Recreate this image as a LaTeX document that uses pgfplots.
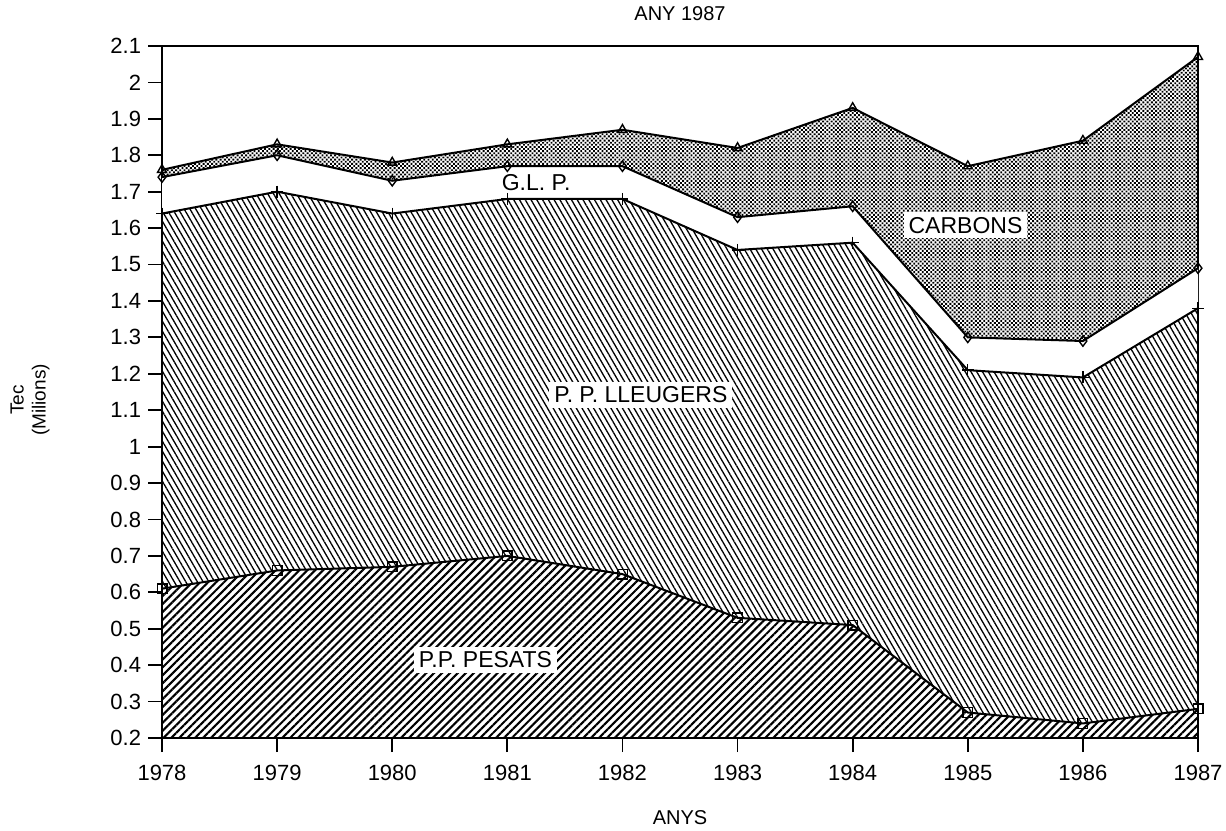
\documentclass[border=0pt]{standalone}
\usepackage{pgfplots}
\pgfplotsset{compat=1.18}
\usepgfplotslibrary{fillbetween}
\usetikzlibrary{patterns,patterns.meta,calc}
\usepackage{fontspec}
\setmainfont{Liberation Sans}
\begin{document}
\begin{tikzpicture}
\begin{axis}[
  name=ax, scale only axis, width=518pt, height=346pt,
  xmin=1978, xmax=1987, ymin=0.2, ymax=2.1,
  xtick={1978,1979,1980,1981,1982,1983,1984,1985,1986,1987},
  ytick={0.2,0.3,0.4,0.5,0.6,0.7,0.8,0.9,1,1.1,1.2,1.3,1.4,1.5,1.6,1.7,1.8,1.9,2,2.1},
  yticklabels={0.2,0.3,0.4,0.5,0.6,0.7,0.8,0.9,1,1.1,1.2,1.3,1.4,1.5,1.6,1.7,1.8,1.9,2,2.1},
  xticklabels={1978,1979,1980,1981,1982,1983,1984,1985,1986,1987},
  tick align=outside, tick pos=left, major tick length=7pt,
  tick style={line width=0.9pt, black},
  axis line style={line width=1.1pt},
  ticklabel style={font=\fontsize{11}{13}\selectfont},
  xticklabel style={yshift=-3pt},
  clip=false,
]
\addplot[draw=none, name path=bot] coordinates {(1978,0.2) (1987,0.2)};
% P.P. PESATS (cumulative)
\addplot[draw=none, name path=pes] coordinates {
(1978,0.61) (1979,0.66) (1980,0.67) (1981,0.70) (1982,0.65) (1983,0.53) (1984,0.51) (1985,0.27) (1986,0.24) (1987,0.28)};
% P.P. LLEUGERS (cumulative)
\addplot[draw=none, name path=lle] coordinates {
(1978,1.64) (1979,1.70) (1980,1.64) (1981,1.68) (1982,1.68) (1983,1.54) (1984,1.56) (1985,1.21) (1986,1.19) (1987,1.38)};
% G.L.P. (cumulative)
\addplot[draw=none, name path=glp] coordinates {
(1978,1.74) (1979,1.80) (1980,1.73) (1981,1.77) (1982,1.77) (1983,1.63) (1984,1.66) (1985,1.30) (1986,1.29) (1987,1.49)};
% CARBONS (cumulative)
\addplot[draw=none, name path=car] coordinates {
(1978,1.76) (1979,1.83) (1980,1.78) (1981,1.83) (1982,1.87) (1983,1.82) (1984,1.93) (1985,1.77) (1986,1.84) (1987,2.07)};

\addplot[pattern={Lines[angle=45,distance=2.8pt,line width=1.05pt]}] fill between[of=pes and bot];
\addplot[pattern={Lines[angle=120,distance=2.5pt,line width=0.65pt]}] fill between[of=lle and pes];
\addplot[fill=white] fill between[of=glp and lle];
\addplot[pattern={Dots[distance=1.5pt,radius=0.66pt,angle=45]}] fill between[of=car and glp];

\addplot[black, line width=1pt, mark=square, mark size=2.4pt, mark options={solid,fill=white,line width=0.7pt}] coordinates {
(1978,0.61) (1979,0.66) (1980,0.67) (1981,0.70) (1982,0.65) (1983,0.53) (1984,0.51) (1985,0.27) (1986,0.24) (1987,0.28)};
\addplot[black, line width=1pt, mark=+, mark size=3pt, mark options={solid,line width=0.7pt}] coordinates {
(1978,1.64) (1979,1.70) (1980,1.64) (1981,1.68) (1982,1.68) (1983,1.54) (1984,1.56) (1985,1.21) (1986,1.19) (1987,1.38)};
\addplot[black, line width=1pt, mark=diamond, mark size=2.6pt, mark options={solid,fill=white,line width=0.7pt}] coordinates {
(1978,1.74) (1979,1.80) (1980,1.73) (1981,1.77) (1982,1.77) (1983,1.63) (1984,1.66) (1985,1.30) (1986,1.29) (1987,1.49)};
\addplot[black, line width=1pt, mark=triangle, mark size=2.6pt, mark options={solid,fill=white,line width=0.7pt}] coordinates {
(1978,1.76) (1979,1.83) (1980,1.78) (1981,1.83) (1982,1.87) (1983,1.82) (1984,1.93) (1985,1.77) (1986,1.84) (1987,2.07)};

\node[fill=white, inner sep=2.5pt, font=\fontsize{11.5}{13}\selectfont] at (axis cs:1980.81,0.415) {P.P. PESATS};
\node[fill=white, inner sep=2.5pt, font=\fontsize{11.5}{13}\selectfont] at (axis cs:1982.16,1.142) {P. P. LLEUGERS};
\node[fill=white, inner sep=2pt, font=\fontsize{11.5}{13}\selectfont] at (axis cs:1981.25,1.724) {G.L. P.};
\node[fill=white, inner sep=2.5pt, font=\fontsize{11.5}{13}\selectfont] at (axis cs:1984.98,1.608) {CARBONS};
\end{axis}
\node[font=\fontsize{10}{12}\selectfont] at ($(ax.north)+(0,16pt)$) {ANY 1987};
\node[font=\fontsize{10}{12}\selectfont] at ($(ax.south)+(0,-40pt)$) {ANYS};
\node[rotate=90, align=center, font=\fontsize{9.5}{11}\selectfont] at ($(ax.west)+(-66pt,-4pt)$) {Tec\\(Milions)};
\pgfresetboundingbox
\path[use as bounding box] ($(ax.south west)+(-81pt,-46pt)$) rectangle ($(ax.north east)+(14pt,23pt)$);
\end{tikzpicture}
\end{document}
